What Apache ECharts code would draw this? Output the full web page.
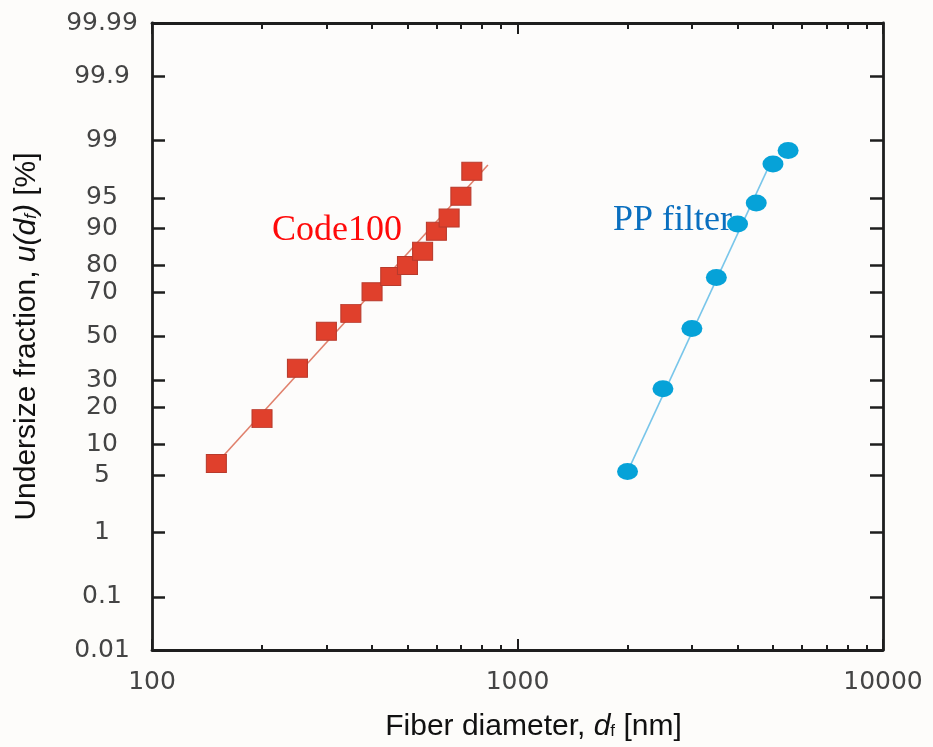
<!DOCTYPE html>
<html>
<head>
<meta charset="utf-8">
<script src="https://cdn.jsdelivr.net/npm/echarts@6/dist/echarts.min.js"></script>
<style>
html,body{margin:0;padding:0;background:#fdfcfa;}
#chart{width:933px;height:747px;}
</style>
</head>
<body>
<div id="chart"></div>
<script>
// ---- data (fiber diameter in nm, undersize fraction in %) ----
const code100X = [150, 200, 250, 300, 350, 400, 450, 500, 550, 600, 650, 700, 750];
const code100U = [6.6, 16.5, 35.3, 52.5, 60.8, 70.2, 76.2, 80.0, 84.4, 89.4, 92.0, 95.2, 97.5];
const code100FitX = [150, 830];
const code100FitU = [6.6, 97.9];

const ppX = [2000, 2500, 3000, 3500, 4000, 4500, 5000, 5500];
const ppU = [5.45, 26.8, 53.8, 75.8, 90.9, 94.35, 97.96, 98.63];
const ppFitX = [2000, 4940];
const ppFitU = [5.45, 98.1];

const yTickLabels = ['0.01', '0.1', '1', '5', '10', '20', '30', '50', '70', '80', '90', '95', '99', '99.9', '99.99'];
const xMajorTicks = [100, 1000, 10000];
const xMinorTicks = [200, 300, 400, 500, 600, 700, 800, 900, 2000, 3000, 4000, 5000, 6000, 7000, 8000, 9000];

// ---- normal-probability transform (inverse normal CDF, Acklam) ----
function probit(p) {
  const a = [-3.969683028665376e+01, 2.209460984245205e+02, -2.759285104469687e+02, 1.383577518672690e+02, -3.066479806614716e+01, 2.506628277459239e+00];
  const b = [-5.447609879822406e+01, 1.615858368580409e+02, -1.556989798598866e+02, 6.680131188771972e+01, -1.328068155288572e+01];
  const c = [-7.784894002430293e-03, -3.223964580411365e-01, -2.400758277161838e+00, -2.549671010229528e+00, 4.374664141464968e+00, 2.938163982698783e+00];
  const d = [7.784695709041462e-03, 3.224671290700398e-01, 2.445134137142996e+00, 3.754408661907416e+00];
  const pl = 0.02425, ph = 1 - pl;
  let q, r;
  if (p < pl) {
    q = Math.sqrt(-2 * Math.log(p));
    return (((((c[0]*q+c[1])*q+c[2])*q+c[3])*q+c[4])*q+c[5]) / ((((d[0]*q+d[1])*q+d[2])*q+d[3])*q+1);
  }
  if (p > ph) {
    q = Math.sqrt(-2 * Math.log(1 - p));
    return -(((((c[0]*q+c[1])*q+c[2])*q+c[3])*q+c[4])*q+c[5]) / ((((d[0]*q+d[1])*q+d[2])*q+d[3])*q+1);
  }
  q = p - 0.5; r = q * q;
  return (((((a[0]*r+a[1])*r+a[2])*r+a[3])*r+a[4])*r+a[5])*q / (((((b[0]*r+b[1])*r+b[2])*r+b[3])*r+b[4])*r+1);
}
const z = (pct) => probit(pct / 100);
const yTickZ = yTickLabels.map(s => z(parseFloat(s)));
const yMin = yTickZ[0], yMax = yTickZ[yTickZ.length - 1];
const pair = (xs, us) => xs.map((x, i) => [x, z(us[i])]);

const AXIS_COLOR = '#1e1e1e';
const LABEL_FONT = { fontFamily: 'DejaVu Sans', fontSize: 25, color: '#444444' };
const TITLE_FONT = 'Liberation Sans';

function xAxisDef(pos, ticks, len, showLine, showLabel) {
  return {
    type: 'log', logBase: 10, min: 100, max: 10000, position: pos,
    axisLine: { show: showLine, onZero: false, lineStyle: { color: AXIS_COLOR, width: 2.8 } },
    axisTick: { show: true, inside: true, length: len, customValues: ticks, lineStyle: { color: AXIS_COLOR, width: 2 } },
    axisLabel: showLabel ? Object.assign({ show: true, margin: 20, customValues: ticks, formatter: v => String(Math.round(v)) }, LABEL_FONT) : { show: false },
    splitLine: { show: false }, minorTick: { show: false }
  };
}

const chart = echarts.init(document.getElementById('chart'), null, { renderer: 'canvas' });
chart.setOption({
  backgroundColor: '#fdfcfa',
  animation: false,
  grid: { left: 152, right: 50, top: 23, bottom: 97, show: true, backgroundColor: '#fdfcfb', borderWidth: 0, containLabel: false, outerBoundsMode: 'none' },
  xAxis: [
    Object.assign(xAxisDef('bottom', xMajorTicks, 11, true, true), {
      name: 'Fiber diameter, {i|d}{s|f} [nm]',
      nameLocation: 'middle', nameGap: 62,
      nameTextStyle: {
        fontFamily: TITLE_FONT, fontSize: 30, color: '#111', padding: [0, 0, 0, 32],
        rich: {
          i: { fontFamily: TITLE_FONT, fontSize: 30, fontStyle: 'italic', color: '#111' },
          s: { fontFamily: TITLE_FONT, fontSize: 17, color: '#111', verticalAlign: 'bottom', padding: [0, 0, 2, 0] }
        }
      }
    }),
    xAxisDef('bottom', xMinorTicks, 5, false, false),
    xAxisDef('top', xMajorTicks, 11, true, false),
    xAxisDef('top', xMinorTicks, 6, false, false)
  ],
  yAxis: [
    {
      type: 'value', min: yMin, max: yMax, position: 'left',
      axisLine: { show: true, onZero: false, lineStyle: { color: AXIS_COLOR, width: 2.8 } },
      axisTick: { show: true, inside: true, length: 13, customValues: yTickZ, lineStyle: { color: AXIS_COLOR, width: 2.5 } },
      axisLabel: Object.assign({
        show: true, customValues: yTickZ, margin: 50, align: 'center',
        formatter: v => { let best = 0; yTickZ.forEach((t, i) => { if (Math.abs(t - v) < Math.abs(yTickZ[best] - v)) best = i; }); return yTickLabels[best]; }
      }, LABEL_FONT),
      splitLine: { show: false },
      name: 'Undersize fraction, {i|u(d}{s|f}{i|)} [%]',
      nameLocation: 'middle', nameGap: 110,
      nameTextStyle: {
        fontFamily: TITLE_FONT, fontSize: 30, color: '#111',
        rich: {
          i: { fontFamily: TITLE_FONT, fontSize: 30, fontStyle: 'italic', color: '#111' },
          s: { fontFamily: TITLE_FONT, fontSize: 17, fontStyle: 'italic', color: '#111', verticalAlign: 'bottom', padding: [0, 0, 2, 0] }
        }
      }
    },
    {
      type: 'value', min: yMin, max: yMax, position: 'right',
      axisLine: { show: true, onZero: false, lineStyle: { color: AXIS_COLOR, width: 2.8 } },
      axisTick: { show: true, inside: true, length: 13, customValues: yTickZ, lineStyle: { color: AXIS_COLOR, width: 2.5 } },
      axisLabel: { show: false },
      splitLine: { show: false }
    }
  ],
  series: [
    {
      name: 'Code100 fit', type: 'line', data: pair(code100FitX, code100FitU),
      showSymbol: false, z: 2, silent: true,
      lineStyle: { color: '#e0806c', width: 1.6 }
    },
    {
      name: 'PP filter fit', type: 'line', data: pair(ppFitX, ppFitU),
      showSymbol: false, z: 2, silent: true,
      lineStyle: { color: '#79c6ea', width: 1.6 }
    },
    {
      name: 'Code100', type: 'scatter', data: pair(code100X, code100U),
      symbol: 'rect', symbolSize: [20, 18], z: 4,
      itemStyle: { color: '#e0402c', borderColor: '#b83a2c', borderWidth: 1, opacity: 1 }
    },
    {
      name: 'PP filter', type: 'scatter', data: pair(ppX, ppU),
      symbol: 'circle', symbolSize: [21, 17], z: 4,
      itemStyle: { color: '#06a2d8', opacity: 1 }
    }
  ],
  graphic: [
    { type: 'text', left: 272, top: 213, z: 3, style: { text: 'Code100', fill: '#ff0a0a', font: '36px "Liberation Serif"' } },
    { type: 'text', left: 613, top: 203, z: 3, style: { text: 'PP filter', fill: '#0a6fbf', font: '36px "Liberation Serif"' } }
  ]
});
</script>
</body>
</html>
